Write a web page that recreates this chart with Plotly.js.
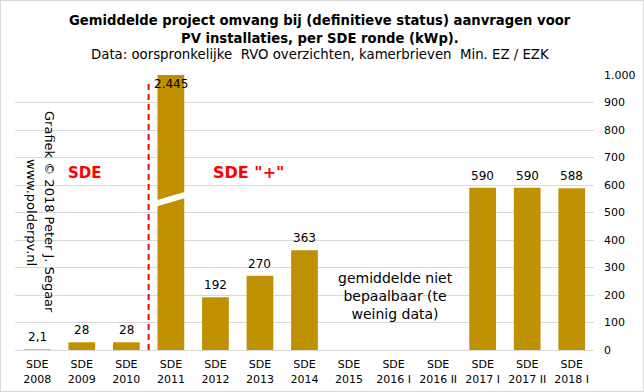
<!DOCTYPE html>
<html>
<head>
<meta charset="utf-8">
<script src="https://cdn.plot.ly/plotly-3.0.1.min.js"></script>
<style>
html,body{margin:0;padding:0;background:#fff;}
#frame{width:644px;height:392px;box-sizing:border-box;border:1px solid #d9d9d9;overflow:hidden;}
#chart{width:642px;height:390px;}
</style>
</head>
<body>
<div id="frame"><div id="chart"></div></div>
<script>
const categories = ["SDE<br>2008","SDE<br>2009","SDE<br>2010","SDE<br>2011","SDE<br>2012","SDE<br>2013","SDE<br>2014","SDE<br>2015","SDE<br>2016 I","SDE<br>2016 II","SDE<br>2017 I","SDE<br>2017 II","SDE<br>2018 I"];
const avgKWp = [2.1, 28, 28, 2445, 192, 270, 363, null, null, null, 590, 590, 588];
const yTickVals = [0,100,200,300,400,500,600,700,800,900,1000];
const yMax = 1000;
const titleLines = [
  "<b>Gemiddelde project omvang bij (definitieve status) aanvragen voor</b>",
  "<b>PV installaties, per SDE ronde (kWp).</b>",
  "Data: oorspronkelijke  RVO overzichten, kamerbrieven  Min. EZ / EZK"
];

function nl(v){
  if (v < 10) return String(v).replace('.', ',');
  const s = String(Math.round(v));
  return s.replace(/\B(?=(\d{3})+(?!\d))/g, '.');
}

const FONT = "DejaVu Sans, Verdana, sans-serif";
const L = 14, R = 49, T = 74, B = 41, W = 642, H = 390;
const pw = W - L - R, ph = H - T - B;
const px2x = p => (p - 1 - L) / pw;
const py2y = p => 1 - (p - 1 - T) / ph;

const annotations = [];
avgKWp.forEach((v, i) => {
  if (v === null) return;
  if (v > yMax) {
    annotations.push({x: i, y: yMax, xref:'x', yref:'y', text: nl(v), showarrow:false,
      yanchor:'top', yshift:0, font:{family:FONT, size:12, color:'#000'}});
  } else {
    annotations.push({x: i, y: v, xref:'x', yref:'y', text: nl(v), showarrow:false,
      yanchor:'bottom', yshift:3, font:{family:FONT, size:12, color:'#000'}});
  }
});

const titleY = [20, 38, 55];
const titleSize = [13.2, 13.2, 13.3];
titleLines.forEach((t, k) => {
  annotations.push({x: px2x(320), y: py2y(titleY[k]), xref:'paper', yref:'paper', text: t,
    showarrow:false, xanchor:'center', yanchor:'middle',
    font:{family:FONT, size:titleSize[k], color:'#000'}});
});

annotations.push(
  {x: 1.08, y: 645, xref:'x', yref:'y', text:'<b>SDE</b>', showarrow:false, xanchor:'center', font:{family:FONT, size:15, color:'#ff0000'}},
  {x: 4.75, y: 645, xref:'x', yref:'y', text:'<b>SDE "+"</b>', showarrow:false, xanchor:'center', font:{family:FONT, size:16, color:'#ff0000'}},
  {x: 8.05, y: 195, xref:'x', yref:'y', text:'gemiddelde niet<br>bepaalbaar (te<br>weinig data)', showarrow:false, xanchor:'center', font:{family:FONT, size:14, color:'#000'}},
  {x: px2x(50), y: py2y(212), xref:'paper', yref:'paper', text:'Grafiek © 2018 Peter J. Segaar', textangle:90, showarrow:false,
    xanchor:'center', yanchor:'middle', font:{family:FONT, size:13, color:'#000'}},
  {x: px2x(32), y: py2y(212), xref:'paper', yref:'paper', text:'www.polderpv.nl', textangle:90, showarrow:false,
    xanchor:'center', yanchor:'middle', font:{family:FONT, size:13, color:'#000'}}
);

const data = [{
  type:'bar', x: categories, y: avgKWp,
  marker:{color:'#bf9000'}, hoverinfo:'none'
}];

const layout = {
  width: W, height: H,
  margin:{l:L, r:R, t:T, b:B, pad:0},
  paper_bgcolor:'#fff', plot_bgcolor:'#fff',
  separators: ',.',
  bargap: 0.4,
  showlegend:false,
  xaxis:{
    type:'category', showgrid:false, showline:true, linecolor:'#d9d9d9', linewidth:1,
    ticks:'', ticklabelstandoff:4, tickfont:{family:FONT, size:11, color:'#000'}, fixedrange:true
  },
  yaxis:{
    side:'right', range:[0, yMax], tickvals: yTickVals, separatethousands:true,
    showgrid:true, gridcolor:'#d9d9d9', gridwidth:1, zeroline:false, showline:false,
    ticks:'', ticklabelstandoff:9, tickfont:{family:FONT, size:11, color:'#000'}, fixedrange:true
  },
  shapes:[
    {type:'line', xref:'x', yref:'y', x0:2.5, x1:2.5, y0:0, y1:975,
      line:{color:'#ff0000', width:2, dash:'6px,4px'}},
    {type:'line', xref:'x', yref:'y', x0:2.66, x1:3.34, y0:532, y1:565,
      line:{color:'#ffffff', width:6}}
  ],
  annotations: annotations
};

Plotly.newPlot('chart', data, layout, {displayModeBar:false, staticPlot:true});
</script>
</body>
</html>
